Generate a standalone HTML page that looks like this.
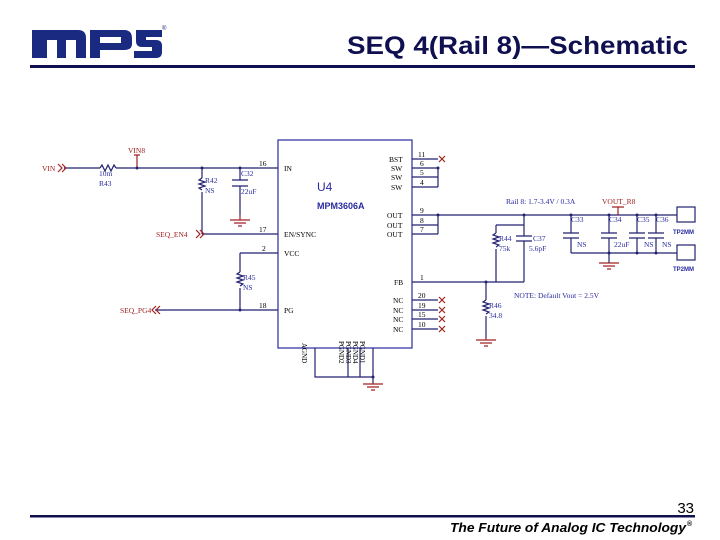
<!DOCTYPE html>
<html><head><meta charset="utf-8"><style>
html,body{margin:0;padding:0;background:#fff;}
svg{display:block;}
text{font-family:"Liberation Serif",serif;}
.s{font-family:"Liberation Sans",sans-serif;}
</style></head><body>
<svg width="720" height="540" viewBox="0 0 720 540" xmlns="http://www.w3.org/2000/svg">
<!-- logo -->
<g fill="#1a2a80">
<path d="M32 30 H78 Q86 30 86 38 V58 H76 V40 H66 V58 H57 V40 H47 V58 H32 Z"/>
<path d="M90 30 H124 Q132 30 132 38 V44 Q132 50 124 50 H100 V58 H90 Z M100 37 V43 H121 V37 Z" fill-rule="evenodd"/>
<path d="M136 30 H162 V37 H146 V40 H156 Q162 40 162 46 V52 Q162 58 156 58 H134 V51 H152 V47 H142 Q136 47 136 41 Z"/>
</g>
<text x="162" y="30" font-size="6" class="s" fill="#1a2a80">®</text>
<text x="347" y="54" class="s" font-size="25" font-weight="bold" fill="#101050" textLength="341" lengthAdjust="spacingAndGlyphs">SEQ 4(Rail 8)—Schematic</text>
<rect x="30" y="65" width="665" height="3" fill="#101050"/>

<g stroke="#222270" stroke-width="1.2" fill="none">
<rect x="278" y="140" width="134" height="208" stroke="#2a2aa0"/>
<path d="M64 168 H100 M116 168 H278 M202 168 V178 M202 192 V234 M202 234 H278 M240 168 V180 M240 186 V215"/>
<path d="M240 253 H278 M240 253 V272 M240 288 V310 M155 310 H278"/>
<path d="M134 155 H140 M137 155 V168" stroke="#a02020"/>
<path d="M412 159 H438 M412 168 H438 M412 177 H438 M412 187 H438 M438 168 V187"/>
<path d="M412 215 H438 M412 225 H438 M412 234 H438 M438 215 V234"/>
<path d="M412 282 H524 M412 300 H438 M412 310 H438 M412 319 H438 M412 329 H438"/>
<path d="M438 215 H677 M524 215 V225 M496 225 H524 M496 225 V233 M496 249 V282 M524 225 V236 M524 241 V282"/>
<path d="M486 282 V300 M486 316 V338"/>
<path d="M571 215 V233 M571 238 V253 M609 215 V233 M609 238 V263 M637 215 V233 M637 238 V253 M656 215 V233 M656 238 V253 M571 253 H677"/>
<path d="M618 207 V215 M612 207 H624" stroke="#a02020"/>
<path d="M232 180 H248 M232 186 H248 M516 236 H532 M516 241 H532 M563 233 H579 M563 238 H579 M601 233 H617 M601 238 H617 M629 233 H645 M629 238 H645 M648 233 H664 M648 238 H664"/>
<path d="M315 348 V377 H373 M373 348 V383 M348 348 V377 M360 348 V377"/>
<rect x="677" y="207" width="18" height="15"/><rect x="677" y="245" width="18" height="15"/>
<path d="M100 168 l2 -3 l3 6 l3 -6 l3 6 l3 -6 l2 3"/>
<path d="M202 178 l-3 2 l6 2 l-6 2 l6 2 l-6 2 l3 2"/>
<path d="M240 272 l-3 2 l6 2 l-6 2 l6 2 l-6 2 l6 2 l-3 2"/>
<path d="M496 233 l-3 2 l6 2 l-6 2 l6 2 l-6 2 l6 2 l-3 2"/>
<path d="M486 300 l-3 2 l6 2 l-6 2 l6 2 l-6 2 l6 2 l-3 2"/>
</g>
<g fill="#222270">
<circle cx="137" cy="168" r="1.5"/><circle cx="202" cy="168" r="1.5"/><circle cx="240" cy="168" r="1.5"/>
<circle cx="240" cy="310" r="1.5"/><circle cx="438" cy="168" r="1.5"/><circle cx="438" cy="215" r="1.5"/>
<circle cx="524" cy="215" r="1.5"/><circle cx="486" cy="282" r="1.5"/><circle cx="571" cy="215" r="1.5"/>
<circle cx="609" cy="215" r="1.5"/><circle cx="637" cy="215" r="1.5"/><circle cx="656" cy="215" r="1.5"/>
<circle cx="609" cy="253" r="1.5"/><circle cx="637" cy="253" r="1.5"/><circle cx="656" cy="253" r="1.5"/>
<circle cx="373" cy="377" r="1.5"/>
</g>
<g stroke="#a02020" stroke-width="1.2" fill="none">
<path d="M240 215 V220 M230 220 H250 M234 223 H246 M238 226 H242"/>
<path d="M486 338 V340 M476 340 H496 M480 343 H492 M484 346 H488"/>
<path d="M599 263 H619 M603 266 H615 M607 269 H611"/>
<path d="M373 383 V384 M363 384 H383 M367 387 H379 M371 390 H375"/>
<path d="M58 164 l4 4 l-4 4 M62 164 l4 4 l-4 4"/>
<path d="M196 230 l4 4 l-4 4 M200 230 l4 4 l-4 4"/>
<path d="M160 306 l-4 4 l4 4 M156 306 l-4 4 l4 4"/>
<path d="M439 156 l6 6 M445 156 l-6 6 M439 297 l6 6 M445 297 l-6 6 M439 307 l6 6 M445 307 l-6 6 M439 316 l6 6 M445 316 l-6 6 M439 326 l6 6 M445 326 l-6 6"/>
</g>
<g font-size="7.5" fill="#a02020">
<text x="42" y="171">VIN</text>
<text x="128" y="153">VIN8</text>
<text x="156" y="237">SEQ_EN4</text>
<text x="120" y="313">SEQ_PG4</text>
<text x="602" y="204">VOUT_R8</text>
</g>
<g font-size="7.5" fill="#2a2aa0">
<text x="99" y="176">10m</text><text x="99" y="186">R43</text>
<text x="205" y="183">R42</text><text x="205" y="193">NS</text>
<text x="241" y="176">C32</text><text x="241" y="194">22uF</text>
<text x="243" y="280">R45</text><text x="243" y="290">NS</text>
<text x="499" y="241">R44</text><text x="499" y="251">75k</text>
<text x="533" y="241">C37</text><text x="529" y="251">5.6pF</text>
<text x="489" y="308">R46</text><text x="489" y="318">34.8</text>
<text x="571" y="222">C33</text><text x="609" y="222">C34</text><text x="637" y="222">C35</text><text x="656" y="222">C36</text>
<text x="577" y="247">NS</text><text x="614" y="247">22uF</text><text x="644" y="247">NS</text><text x="662" y="247">NS</text>
<text x="506" y="204">Rail 8: 1.7-3.4V / 0.3A</text>
<text x="514" y="298">NOTE: Default Vout = 2.5V</text>
<g fill="#000">
<text x="259" y="166">16</text><text x="259" y="232">17</text><text x="262" y="251">2</text><text x="259" y="308">18</text>
<text x="284" y="171">IN</text><text x="284" y="237">EN/SYNC</text><text x="284" y="256">VCC</text><text x="284" y="313">PG</text>
<text x="389" y="162">BST</text><text x="391" y="171">SW</text><text x="391" y="180">SW</text><text x="391" y="190">SW</text>
<text x="387" y="218">OUT</text><text x="387" y="228">OUT</text><text x="387" y="237">OUT</text>
<text x="394" y="285">FB</text>
<text x="393" y="303">NC</text><text x="393" y="313">NC</text><text x="393" y="322">NC</text><text x="393" y="332">NC</text>
<text x="418" y="157">11</text><text x="420" y="166">6</text><text x="420" y="175">5</text><text x="420" y="185">4</text>
<text x="420" y="213">9</text><text x="420" y="223">8</text><text x="420" y="232">7</text><text x="420" y="280">1</text>
<text x="418" y="298">20</text><text x="418" y="308">19</text><text x="418" y="317">15</text><text x="418" y="327">10</text>
</g>
<g fill="#000" font-size="7">
<text transform="translate(302,343) rotate(90)">AGND</text>
<text transform="translate(339,341) rotate(90)">PGND2</text>
<text transform="translate(346,341) rotate(90)">PGND3</text>
<text transform="translate(353,341) rotate(90)">PGND4</text>
<text transform="translate(360,341) rotate(90)">PGND1</text>
</g>
</g>
<text x="317" y="191" class="s" font-size="12" fill="#2a2aa0">U4</text>
<text x="317" y="209" class="s" font-size="9" font-weight="bold" fill="#2a2aa0">MPM3606A</text>
<text x="673" y="234" class="s" font-size="6" font-weight="bold" fill="#2a2aa0">TP2MM</text>
<text x="673" y="271" class="s" font-size="6" font-weight="bold" fill="#2a2aa0">TP2MM</text>

<text x="694" y="513" class="s" font-size="15" text-anchor="end" fill="#000">33</text>
<rect x="30" y="515" width="665" height="2.5" fill="#101050"/>
<text x="450" y="532" class="s" font-size="13" font-weight="bold" font-style="italic" fill="#000" textLength="236" lengthAdjust="spacingAndGlyphs">The Future of Analog IC Technology</text>
<text x="687" y="526" class="s" font-size="7" font-weight="bold" fill="#000">®</text>
</svg>
</body></html>
